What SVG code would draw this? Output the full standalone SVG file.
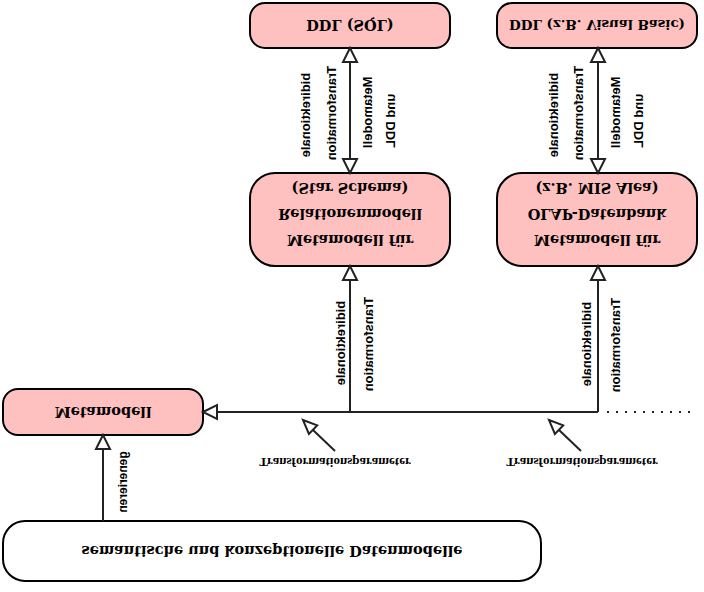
<svg xmlns="http://www.w3.org/2000/svg" width="704" height="592" viewBox="0 0 704 592">
<style>
.box{fill:#ffc0c0;stroke:#000;stroke-width:2}
.wbox{fill:#fff;stroke:#000;stroke-width:2}
.nt{font-family:"DejaVu Serif",serif;font-weight:bold;font-size:14.5px;text-anchor:middle;dominant-baseline:central;fill:#000}
.vl{font-family:"Liberation Sans",sans-serif;font-weight:bold;font-size:13px;dominant-baseline:central;fill:#000}
.pl{font-family:"Liberation Serif",serif;font-weight:bold;font-size:13px;text-anchor:middle;dominant-baseline:central;fill:#000}
.ln{stroke:#222;stroke-width:2;fill:none}
.ah{fill:#fff;stroke:#222;stroke-width:2;stroke-linejoin:miter}
</style>
<rect width="704" height="592" fill="#fff"/>
<g id="ddl-sql">
<rect class="box" x="250" y="3" width="200" height="45" rx="15"/>
<text class="nt" transform="translate(350,25) scale(1,-1)">DDL (SQL)</text>
</g>
<g id="ddl-vb">
<rect class="box" x="497" y="3" width="200" height="45" rx="15"/>
<text class="nt" style="font-size:13.5px" transform="translate(597,25) scale(1,-1)">DDL (z.B. Visual Basic)</text>
</g>
<g id="mm-rel">
<rect class="box" x="250" y="173" width="200" height="93" rx="25"/>
<text class="nt" transform="translate(350,240) scale(1,-1)">Metamodell für</text>
<text class="nt" transform="translate(350,214) scale(1,-1)">Relationenmodell</text>
<text class="nt" transform="translate(350,188) scale(1,-1)">(Star Schema)</text>
</g>
<g id="mm-olap">
<rect class="box" x="497" y="173" width="200" height="93" rx="25"/>
<text class="nt" transform="translate(597,240) scale(1,-1)">Metamodell für</text>
<text class="nt" transform="translate(597,214) scale(1,-1)">OLAP-Datenbank</text>
<text class="nt" transform="translate(597,188) scale(1,-1)">(z.B. MIS Alea)</text>
</g>
<g id="metamodell">
<rect class="box" x="3" y="389" width="200" height="46" rx="15"/>
<text class="nt" transform="translate(103,412) scale(1,-1)">Metamodell</text>
</g>
<g id="datenmodelle">
<rect class="wbox" x="3" y="521" width="538" height="60" rx="22"/>
<text class="nt" transform="translate(272,551) scale(1,-1)">semantische und konzeptionelle Datenmodelle</text>
</g>
<g id="connectors">
<!-- generieren -->
<line class="ln" x1="103" y1="521" x2="103" y2="449"/>
<polygon class="ah" points="103,435 96,449 110,449"/>
<text class="vl" text-anchor="middle" style="font-size:12px" transform="translate(123,482) scale(1,-1) rotate(-90)">generieren</text>
<!-- horizontal bus -->
<line class="ln" x1="598" y1="412" x2="217" y2="412"/>
<polygon class="ah" points="203,412 217,405 217,419"/>
<line x1="607" y1="412" x2="694" y2="412" stroke="#222" stroke-width="2" stroke-dasharray="2,7"/>
<!-- up to Relationen -->
<line class="ln" x1="350" y1="412" x2="350" y2="280"/>
<polygon class="ah" points="350,266 343,280 357,280"/>
<text class="vl" text-anchor="middle" transform="translate(340,343) scale(1,-1) rotate(-90)">bidirektionale</text>
<text class="vl" text-anchor="middle" transform="translate(368,344) scale(1,-1) rotate(-90)">Transformation</text>
<!-- up to OLAP -->
<line class="ln" x1="598" y1="412" x2="598" y2="280"/>
<polygon class="ah" points="598,266 591,280 605,280"/>
<text class="vl" text-anchor="middle" transform="translate(586,344) scale(1,-1) rotate(-90)">bidirektionale</text>
<text class="vl" text-anchor="middle" transform="translate(615,345) scale(1,-1) rotate(-90)">Transformation</text>
<!-- double arrow SQL -->
<line class="ln" x1="350" y1="62" x2="350" y2="159"/>
<polygon class="ah" points="350,48 343,62 357,62"/>
<polygon class="ah" points="350,173 343,159 357,159"/>
<text class="vl" text-anchor="middle" transform="translate(305,115) scale(1,-1) rotate(-90)">bidirektionale</text>
<text class="vl" text-anchor="middle" transform="translate(331,113) scale(1,-1) rotate(-90)">Transformation</text>
<text class="vl" text-anchor="end" transform="translate(367,148) scale(1,-1) rotate(-90)">Metamodell</text>
<text class="vl" text-anchor="end" transform="translate(390,148) scale(1,-1) rotate(-90)">und DDL</text>
<!-- double arrow VB -->
<line class="ln" x1="598" y1="62" x2="598" y2="159"/>
<polygon class="ah" points="598,48 591,62 605,62"/>
<polygon class="ah" points="598,173 591,159 605,159"/>
<text class="vl" text-anchor="middle" transform="translate(553,115) scale(1,-1) rotate(-90)">bidirektionale</text>
<text class="vl" text-anchor="middle" transform="translate(578,113) scale(1,-1) rotate(-90)">Transformation</text>
<text class="vl" text-anchor="end" transform="translate(615,148) scale(1,-1) rotate(-90)">Metamodell</text>
<text class="vl" text-anchor="end" transform="translate(638,148) scale(1,-1) rotate(-90)">und DDL</text>
<!-- Transformationsparameter pointers -->
<line class="ln" x1="335" y1="451" x2="313" y2="430"/>
<polygon class="ah" points="303,420 317.2,425.4 308.9,434"/>
<text class="pl" transform="translate(335,462) scale(1,-1)">Transformationsparameter</text>
<line class="ln" x1="581" y1="451" x2="559" y2="430"/>
<polygon class="ah" points="549,420 563.2,425.4 554.9,434"/>
<text class="pl" transform="translate(582,462) scale(1,-1)">Transformationsparameter</text>
</g>
</svg>
